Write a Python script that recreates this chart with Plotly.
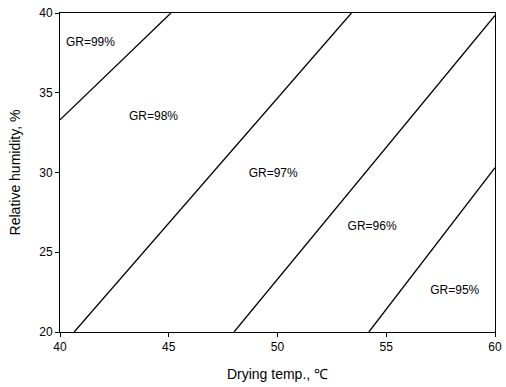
import plotly.graph_objects as go

# GR contour lines (x: drying temp, y: relative humidity)
line_x = [
    [40.0, 45.1],
    [40.65, 53.4],
    [48.0, 60.0],
    [54.2, 60.0],
]
line_y = [
    [33.3, 40.0],
    [20.0, 40.0],
    [20.0, 39.85],
    [20.0, 30.3],
]
labels = ["GR=99%", "GR=98%", "GR=97%", "GR=96%", "GR=95%"]
label_x = [41.4, 44.3, 49.8, 54.35, 58.15]
label_y = [38.15, 33.45, 29.9, 26.6, 22.55]

fig = go.Figure()
for xs, ys in zip(line_x, line_y):
    fig.add_trace(go.Scatter(x=xs, y=ys, mode="lines",
                             line=dict(color="black", width=1.3),
                             showlegend=False, hoverinfo="skip"))
fig.add_trace(go.Scatter(x=label_x, y=label_y, mode="text", text=labels,
                         textfont=dict(family="Liberation Sans, Arial", size=12, color="black"),
                         showlegend=False, hoverinfo="skip"))

axis_common = dict(showgrid=False, zeroline=False, showline=True, linecolor="black",
                   linewidth=1, mirror=True, ticks="outside", ticklen=4, automargin=False,
                   tickcolor="black", tickfont=dict(size=12, color="black"))
fig.update_xaxes(range=[40, 60], dtick=5, title=dict(text="Drying temp., ℃",
                 font=dict(size=14, color="black")), **axis_common)
fig.update_yaxes(range=[20, 40], dtick=5, title=dict(text="Relative humidity, %",
                 font=dict(size=14, color="black")), **axis_common)

fig.update_layout(width=506, height=387, margin=dict(l=60, r=11, t=13, b=55, autoexpand=False),
                  plot_bgcolor="white", paper_bgcolor="white",
                  font=dict(family="Liberation Sans, Arial", color="black"))
fig.write_html("out.html")
